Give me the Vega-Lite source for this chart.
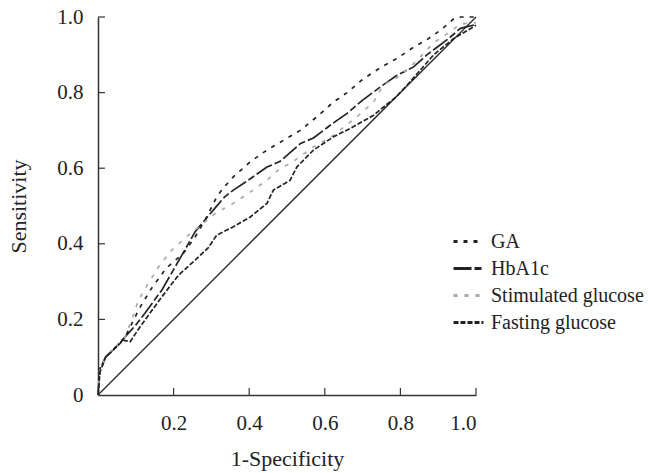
{
  "$schema": "https://vega.github.io/schema/vega-lite/v6.json",
  "autosize": "none",
  "width": 378,
  "height": 378,
  "padding": {"left": 98, "top": 17, "right": 172, "bottom": 78},
  "background": "white",
  "config": {
    "view": {"stroke": null},
    "font": "Liberation Serif",
    "axis": {
      "domainColor": "#333333",
      "domainWidth": 1.5,
      "ticks": false,
      "grid": false,
      "labelFont": "Liberation Serif",
      "labelFontSize": 21,
      "labelColor": "#222222",
      "titleFont": "Liberation Serif",
      "titleFontSize": 22,
      "titleFontWeight": "normal",
      "titleColor": "#222222"
    },
    "legend": {
      "labelFont": "Liberation Serif",
      "labelFontSize": 20,
      "labelColor": "#222222"
    }
  },
  "datasets": {
    "diag": [{"x": 0, "y": 0}, {"x": 1, "y": 1}],
    "xt": [{"v": 0.2}, {"v": 0.4}, {"v": 0.6}, {"v": 0.8}, {"v": 1.0}],
    "roc": [
      {"s": "GA", "x": 0, "y": 0}, {"s": "GA", "x": 0.005, "y": 0.06}, {"s": "GA", "x": 0.02, "y": 0.1}, {"s": "GA", "x": 0.05, "y": 0.13}, {"s": "GA", "x": 0.07, "y": 0.15}, {"s": "GA", "x": 0.09, "y": 0.19}, {"s": "GA", "x": 0.11, "y": 0.23}, {"s": "GA", "x": 0.14, "y": 0.28}, {"s": "GA", "x": 0.18, "y": 0.335}, {"s": "GA", "x": 0.226, "y": 0.375}, {"s": "GA", "x": 0.257, "y": 0.418}, {"s": "GA", "x": 0.283, "y": 0.462}, {"s": "GA", "x": 0.314, "y": 0.524}, {"s": "GA", "x": 0.332, "y": 0.548}, {"s": "GA", "x": 0.358, "y": 0.577}, {"s": "GA", "x": 0.403, "y": 0.617}, {"s": "GA", "x": 0.447, "y": 0.648}, {"s": "GA", "x": 0.491, "y": 0.674}, {"s": "GA", "x": 0.535, "y": 0.7}, {"s": "GA", "x": 0.579, "y": 0.736}, {"s": "GA", "x": 0.623, "y": 0.775}, {"s": "GA", "x": 0.659, "y": 0.8}, {"s": "GA", "x": 0.7, "y": 0.835}, {"s": "GA", "x": 0.747, "y": 0.866}, {"s": "GA", "x": 0.79, "y": 0.89}, {"s": "GA", "x": 0.835, "y": 0.92}, {"s": "GA", "x": 0.87, "y": 0.94}, {"s": "GA", "x": 0.906, "y": 0.965}, {"s": "GA", "x": 0.941, "y": 0.995}, {"s": "GA", "x": 0.96, "y": 1.0}, {"s": "GA", "x": 1.0, "y": 1.0},
      {"s": "HbA1c", "x": 0, "y": 0}, {"s": "HbA1c", "x": 0.005, "y": 0.07}, {"s": "HbA1c", "x": 0.02, "y": 0.1}, {"s": "HbA1c", "x": 0.05, "y": 0.13}, {"s": "HbA1c", "x": 0.08, "y": 0.163}, {"s": "HbA1c", "x": 0.1, "y": 0.185}, {"s": "HbA1c", "x": 0.124, "y": 0.216}, {"s": "HbA1c", "x": 0.169, "y": 0.278}, {"s": "HbA1c", "x": 0.222, "y": 0.37}, {"s": "HbA1c", "x": 0.257, "y": 0.432}, {"s": "HbA1c", "x": 0.283, "y": 0.463}, {"s": "HbA1c", "x": 0.31, "y": 0.495}, {"s": "HbA1c", "x": 0.336, "y": 0.525}, {"s": "HbA1c", "x": 0.358, "y": 0.542}, {"s": "HbA1c", "x": 0.4, "y": 0.57}, {"s": "HbA1c", "x": 0.447, "y": 0.603}, {"s": "HbA1c", "x": 0.482, "y": 0.618}, {"s": "HbA1c", "x": 0.535, "y": 0.665}, {"s": "HbA1c", "x": 0.57, "y": 0.68}, {"s": "HbA1c", "x": 0.623, "y": 0.72}, {"s": "HbA1c", "x": 0.659, "y": 0.745}, {"s": "HbA1c", "x": 0.7, "y": 0.78}, {"s": "HbA1c", "x": 0.747, "y": 0.815}, {"s": "HbA1c", "x": 0.79, "y": 0.845}, {"s": "HbA1c", "x": 0.835, "y": 0.868}, {"s": "HbA1c", "x": 0.87, "y": 0.9}, {"s": "HbA1c", "x": 0.897, "y": 0.92}, {"s": "HbA1c", "x": 0.93, "y": 0.945}, {"s": "HbA1c", "x": 0.959, "y": 0.97}, {"s": "HbA1c", "x": 1.0, "y": 0.98},
      {"s": "Stimulated glucose", "x": 0, "y": 0}, {"s": "Stimulated glucose", "x": 0.005, "y": 0.065}, {"s": "Stimulated glucose", "x": 0.02, "y": 0.1}, {"s": "Stimulated glucose", "x": 0.05, "y": 0.13}, {"s": "Stimulated glucose", "x": 0.07, "y": 0.15}, {"s": "Stimulated glucose", "x": 0.089, "y": 0.198}, {"s": "Stimulated glucose", "x": 0.107, "y": 0.251}, {"s": "Stimulated glucose", "x": 0.13, "y": 0.29}, {"s": "Stimulated glucose", "x": 0.16, "y": 0.339}, {"s": "Stimulated glucose", "x": 0.195, "y": 0.383}, {"s": "Stimulated glucose", "x": 0.239, "y": 0.423}, {"s": "Stimulated glucose", "x": 0.283, "y": 0.458}, {"s": "Stimulated glucose", "x": 0.31, "y": 0.48}, {"s": "Stimulated glucose", "x": 0.358, "y": 0.507}, {"s": "Stimulated glucose", "x": 0.4, "y": 0.535}, {"s": "Stimulated glucose", "x": 0.447, "y": 0.568}, {"s": "Stimulated glucose", "x": 0.482, "y": 0.6}, {"s": "Stimulated glucose", "x": 0.508, "y": 0.612}, {"s": "Stimulated glucose", "x": 0.57, "y": 0.656}, {"s": "Stimulated glucose", "x": 0.623, "y": 0.687}, {"s": "Stimulated glucose", "x": 0.685, "y": 0.736}, {"s": "Stimulated glucose", "x": 0.729, "y": 0.775}, {"s": "Stimulated glucose", "x": 0.755, "y": 0.82}, {"s": "Stimulated glucose", "x": 0.8, "y": 0.845}, {"s": "Stimulated glucose", "x": 0.844, "y": 0.885}, {"s": "Stimulated glucose", "x": 0.888, "y": 0.932}, {"s": "Stimulated glucose", "x": 0.93, "y": 0.96}, {"s": "Stimulated glucose", "x": 0.959, "y": 0.982}, {"s": "Stimulated glucose", "x": 1.0, "y": 0.985},
      {"s": "Fasting glucose", "x": 0, "y": 0}, {"s": "Fasting glucose", "x": 0.005, "y": 0.06}, {"s": "Fasting glucose", "x": 0.02, "y": 0.1}, {"s": "Fasting glucose", "x": 0.05, "y": 0.128}, {"s": "Fasting glucose", "x": 0.067, "y": 0.145}, {"s": "Fasting glucose", "x": 0.085, "y": 0.141}, {"s": "Fasting glucose", "x": 0.111, "y": 0.18}, {"s": "Fasting glucose", "x": 0.14, "y": 0.22}, {"s": "Fasting glucose", "x": 0.169, "y": 0.26}, {"s": "Fasting glucose", "x": 0.213, "y": 0.317}, {"s": "Fasting glucose", "x": 0.257, "y": 0.357}, {"s": "Fasting glucose", "x": 0.292, "y": 0.39}, {"s": "Fasting glucose", "x": 0.314, "y": 0.423}, {"s": "Fasting glucose", "x": 0.358, "y": 0.445}, {"s": "Fasting glucose", "x": 0.403, "y": 0.471}, {"s": "Fasting glucose", "x": 0.447, "y": 0.507}, {"s": "Fasting glucose", "x": 0.464, "y": 0.542}, {"s": "Fasting glucose", "x": 0.508, "y": 0.568}, {"s": "Fasting glucose", "x": 0.526, "y": 0.603}, {"s": "Fasting glucose", "x": 0.57, "y": 0.648}, {"s": "Fasting glucose", "x": 0.623, "y": 0.683}, {"s": "Fasting glucose", "x": 0.667, "y": 0.705}, {"s": "Fasting glucose", "x": 0.729, "y": 0.74}, {"s": "Fasting glucose", "x": 0.79, "y": 0.79}, {"s": "Fasting glucose", "x": 0.818, "y": 0.82}, {"s": "Fasting glucose", "x": 0.888, "y": 0.9}, {"s": "Fasting glucose", "x": 0.941, "y": 0.943}, {"s": "Fasting glucose", "x": 1.0, "y": 0.978}
    ]
  },
  "layer": [
    {
      "data": {"name": "xt"},
      "mark": {"type": "rule", "color": "#333333", "strokeWidth": 1.2},
      "encoding": {
        "x": {"field": "v", "type": "quantitative"},
        "y": {"datum": 0},
        "y2": {"datum": 0.0185}
      }
    },
    {
      "data": {"name": "xt"},
      "mark": {"type": "rule", "color": "#333333", "strokeWidth": 1.2},
      "encoding": {
        "y": {"field": "v", "type": "quantitative"},
        "x": {"datum": 0},
        "x2": {"datum": 0.0185}
      }
    },
    {
      "data": {"name": "diag"},
      "mark": {"type": "line", "color": "#222222", "strokeWidth": 1.3},
      "encoding": {
        "x": {"field": "x", "type": "quantitative"},
        "y": {"field": "y", "type": "quantitative"}
      }
    },
    {
      "data": {"name": "roc"},
      "mark": {"type": "line", "strokeWidth": 1.7},
      "encoding": {
        "x": {
          "field": "x", "type": "quantitative",
          "scale": {"domain": [0, 1], "nice": false, "zero": true},
          "axis": {"title": "1-Specificity", "values": [0.2, 0.4, 0.6, 0.8, 1.0], "format": ".1f", "labelPadding": 17, "titlePadding": 15}
        },
        "y": {
          "field": "y", "type": "quantitative",
          "scale": {"domain": [0, 1], "nice": false},
          "axis": {"title": "Sensitivity", "values": [0, 0.2, 0.4, 0.6, 0.8, 1.0], "labelExpr": "datum.value == 0 ? '0' : format(datum.value, '.1f')", "labelPadding": 15, "titlePadding": 26}
        },
        "color": {
          "field": "s", "type": "nominal",
          "scale": {"domain": ["GA", "HbA1c", "Stimulated glucose", "Fasting glucose"], "range": ["#222222", "#222222", "#aaaaaa", "#222222"]},
          "legend": {
            "title": null,
            "orient": "none",
            "legendX": 354,
            "legendY": 208,
            "symbolType": "stroke",
            "symbolSize": 900,
            "symbolStrokeWidth": 3,
            "labelOffset": 6,
            "rowPadding": -2,
            "padding": 0
          }
        },
        "strokeDash": {
          "field": "s", "type": "nominal",
          "scale": {"domain": ["GA", "HbA1c", "Stimulated glucose", "Fasting glucose"], "range": [[4, 6], [18, 3, 7, 3], [4, 7], [5, 2]]},
          "legend": {
            "title": null,
            "orient": "none",
            "legendX": 354,
            "legendY": 208,
            "symbolType": "stroke",
            "symbolSize": 900,
            "symbolStrokeWidth": 3,
            "labelOffset": 6,
            "rowPadding": -2,
            "padding": 0
          }
        },
        "order": {"field": "x", "type": "quantitative"}
      }
    }
  ]
}
